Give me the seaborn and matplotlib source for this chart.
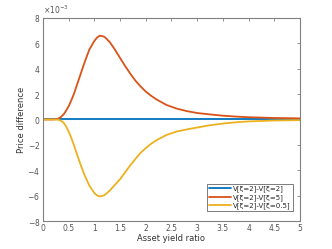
import numpy as np
import pandas as pd
import matplotlib
matplotlib.use("Agg")
import matplotlib.pyplot as plt
import seaborn as sns
from matplotlib.ticker import ScalarFormatter

# asset yield ratio grid
x = [0, 0.1, 0.2, 0.25, 0.3, 0.35, 0.4, 0.45, 0.5, 0.55, 0.6, 0.7, 0.8, 0.9,
     1.0, 1.05, 1.1, 1.15, 1.2, 1.3, 1.4, 1.5, 1.6, 1.7, 1.8, 1.9, 2.0, 2.1,
     2.2, 2.4, 2.6, 2.8, 3.0, 3.25, 3.5, 3.75, 4.0, 4.5, 5.0]

# price differences, in units of 1e-3
diff_same = [0.0] * len(x)
diff_xi5 = [0, 0, 0, 0.02, 0.08, 0.2, 0.4, 0.7, 1.05, 1.5, 2.0, 3.2, 4.4, 5.5,
            6.2, 6.45, 6.6, 6.58, 6.5, 6.1, 5.5, 4.85, 4.2, 3.6, 3.05, 2.6,
            2.2, 1.88, 1.6, 1.15, 0.86, 0.66, 0.51, 0.4, 0.3, 0.23, 0.18,
            0.12, 0.09]
diff_xi05 = [0, 0, 0, 0, -0.02, -0.1, -0.25, -0.55, -0.95, -1.45, -2.0, -3.2,
             -4.3, -5.2, -5.8, -5.98, -6.06, -6.03, -5.95, -5.6, -5.15, -4.7,
             -4.15, -3.6, -3.1, -2.62, -2.25, -1.92, -1.65, -1.22, -0.95,
             -0.78, -0.63, -0.45, -0.32, -0.22, -0.15, -0.08, -0.05]

labels = ["V[ξ=2]-V[ξ=2]", "V[ξ=2]-V[ξ=5]", "V[ξ=2]-V[ξ=0.5]"]
colors = ["#0072BD", "#D95319", "#EDB120"]

df = pd.concat([
    pd.DataFrame({"ratio": x, "diff": np.array(v) * 1e-3, "series": lab})
    for v, lab in zip([diff_same, diff_xi5, diff_xi05], labels)
])

sns.set_style("white")
plt.rcParams["font.family"] = ["DejaVu Sans"]
plt.rcParams["font.size"] = 5.5

fig = plt.figure(figsize=(3.32, 2.49), dpi=100)
ax = fig.add_axes([43 / 332, 28 / 249, 257 / 332, 203 / 249])

sns.lineplot(data=df, x="ratio", y="diff", hue="series", hue_order=labels,
             palette=colors, linewidth=1.3, ax=ax, sort=False)

ax.set_xlim(0, 5)
ax.set_ylim(-8e-3, 8e-3)
ax.set_xticks(np.arange(0, 5.01, 0.5))
ax.set_xticklabels(["0", "0.5", "1", "1.5", "2", "2.5", "3", "3.5", "4", "4.5", "5"])
ax.set_yticks(np.arange(-8e-3, 8.01e-3, 2e-3))
fmt = ScalarFormatter(useMathText=True)
fmt.set_powerlimits((-3, -3))
ax.yaxis.set_major_formatter(fmt)
ax.yaxis.get_offset_text().set_fontsize(5.5)
ax.yaxis.get_offset_text().set_color("#555555")

ax.set_xlabel("Asset yield ratio", fontsize=6, color="#333333", labelpad=1)
ax.set_ylabel("Price difference", fontsize=6, color="#333333", labelpad=1)

for s in ax.spines.values():
    s.set_color("#808080")
    s.set_linewidth(0.8)
ax.tick_params(direction="in", length=2.5, width=0.6, color="#808080",
               labelcolor="#555555", labelsize=5.5, top=True, right=True,
               pad=2)

leg = ax.legend(loc="lower right", fontsize=5, frameon=True, fancybox=False,
                edgecolor="#404040", handlelength=3.2, borderpad=0.3,
                labelspacing=0.25, handletextpad=0.3,
                bbox_to_anchor=(0.985, 0.03))
leg.get_frame().set_linewidth(0.6)
for line in leg.get_lines():
    line.set_linewidth(1.3)

fig.savefig("out.png", dpi=100)
